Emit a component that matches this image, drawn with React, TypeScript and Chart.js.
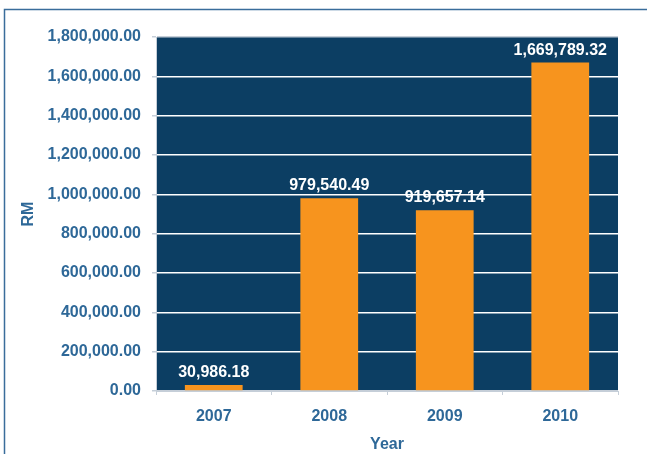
import React, { useEffect, useRef } from "react";
import { Chart, registerables } from "chart.js";

Chart.register(...registerables);

const categories = ["2007", "2008", "2009", "2010"];
const values = [30986.18, 979540.49, 919657.14, 1669789.32];
const yMin = 0;
const yMax = 1800000;
const yStep = 200000;

const NAVY = "#0c3e63";
const ORANGE = "#f7941e";
const TEXT = "#2e6898";
const LIGHT = "#c5ced8";
const FONT = "'Liberation Sans', Arial, sans-serif";

const fmt = (v: number) =>
  v.toLocaleString("en-US", { minimumFractionDigits: 2, maximumFractionDigits: 2 });

const decor = {
  id: "decor",
  beforeDraw(chart: any) {
    const { ctx, chartArea } = chart;
    ctx.save();
    ctx.fillStyle = "#ffffff";
    ctx.fillRect(0, 0, chart.width, chart.height);
    ctx.strokeStyle = "#3a6d9b";
    ctx.lineWidth = 1.5;
    ctx.strokeRect(4.5, 9.5, chart.width + 20, chart.height + 20);
    ctx.fillStyle = NAVY;
    ctx.fillRect(chartArea.left, chartArea.top, chartArea.right - chartArea.left, chartArea.bottom - chartArea.top);
    ctx.restore();
  },
  afterDatasetsDraw(chart: any) {
    const { ctx } = chart;
    const meta = chart.getDatasetMeta(0);
    ctx.save();
    ctx.fillStyle = "#ffffff";
    ctx.font = `bold 16px ${FONT}`;
    ctx.textAlign = "center";
    ctx.textBaseline = "alphabetic";
    meta.data.forEach((bar: any, i: number) => {
      ctx.fillText(fmt(values[i]), bar.x, bar.y - 8);
    });
    ctx.restore();
  },
};

export default function App() {
  const ref = useRef<HTMLCanvasElement>(null);
  useEffect(() => {
    const chart = new Chart(ref.current!, {
      type: "bar",
      data: {
        labels: categories,
        datasets: [
          {
            data: values,
            backgroundColor: ORANGE,
            barPercentage: 0.5,
            categoryPercentage: 1,
          },
        ],
      },
      options: {
        responsive: false,
        animation: false,
        layout: { padding: { left: 0, top: 37, right: 29, bottom: 0 } },
        plugins: { legend: { display: false }, tooltip: { enabled: false } },
        scales: {
          x: {
            afterFit: (s: any) => {
              s.height = 63;
            },
            grid: { drawOnChartArea: false, drawTicks: true, tickLength: 4, tickColor: LIGHT },
            border: { color: LIGHT },
            ticks: { color: TEXT, font: { family: FONT, size: 16, weight: "bold" }, padding: 12 },
            title: {
              display: true,
              text: "Year",
              color: TEXT,
              font: { family: FONT, size: 16, weight: "bold" },
              padding: { top: 0, bottom: 0 },
            },
          },
          y: {
            min: yMin,
            max: yMax,
            afterFit: (s: any) => {
              s.width = 156;
            },
            grid: {
              color: (c: any) =>
                c.tick && (c.tick.value === yMax || c.tick.value === yMin) ? LIGHT : "#ffffff",
              lineWidth: 1.5,
              tickLength: 4,
              tickColor: LIGHT,
            },
            border: { color: LIGHT },
            ticks: {
              stepSize: yStep,
              color: TEXT,
              padding: 11,
              font: { family: FONT, size: 16, weight: "bold" },
              callback: (v: any) => fmt(Number(v)),
            },
            title: {
              display: true,
              text: "RM",
              color: TEXT,
              font: { family: FONT, size: 16, weight: "bold" },
              padding: { top: 19, bottom: 0 },
            },
          },
        },
      },
      plugins: [decor],
    });
    return () => chart.destroy();
  }, []);
  return (
    <div style={{ position: "fixed", left: 0, top: 0, width: 647, height: 454 }}>
      <canvas ref={ref} width={647} height={454} style={{ display: "block" }} />
    </div>
  );
}
